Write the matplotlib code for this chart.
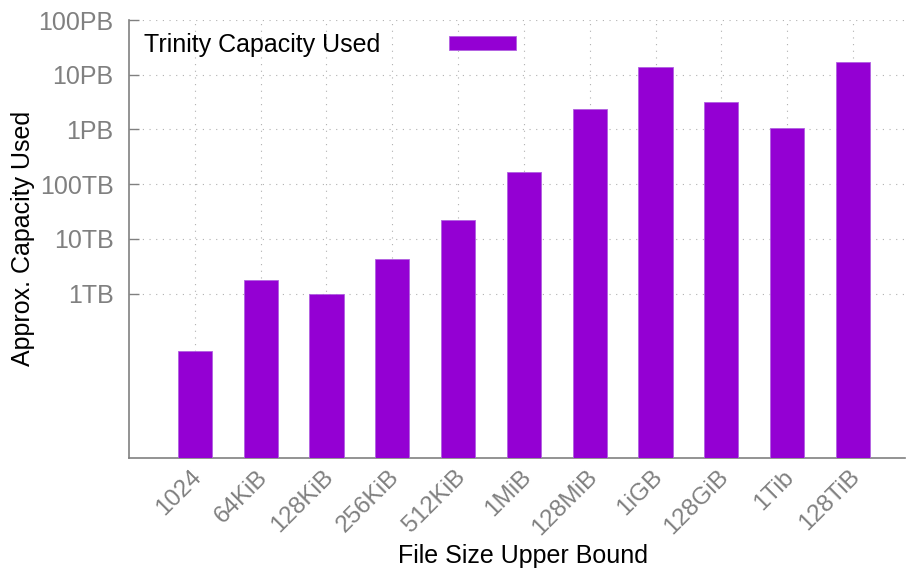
import matplotlib
matplotlib.use("Agg")
import matplotlib.pyplot as plt
from matplotlib.patches import Patch
from matplotlib.transforms import ScaledTranslation
import numpy as np

plt.rcParams['font.family'] = ['Liberation Sans', 'DejaVu Sans']

# File size buckets and capacity used per bucket (bytes)
size_labels = ["1024", "64KiB", "128KiB", "256KiB", "512KiB", "1MiB",
               "128MiB", "1iGB", "128GiB", "1Tib", "128TiB"]
capacity_bytes = [9.0e10, 1.8e12, 1.0e12, 4.3e12, 2.2e13, 1.67e14,
                  2.36e15, 1.37e16, 3.18e15, 1.05e15, 1.69e16]

ytick_values = [1e12, 1e13, 1e14, 1e15, 1e16, 1e17]
ytick_labels = ["1TB", "10TB", "100TB", "1PB", "10PB", "100PB"]

series_name = "Trinity Capacity Used"
bar_color = "#9400d3"
axis_gray = "#808080"
fs = 18

W, H = 907, 570
fig = plt.figure(figsize=(W / 100, H / 100), dpi=100)
ax = fig.add_axes([129 / W, 1 - 457.7 / H, (905 - 129) / W, (457.7 - 20) / H])

x = np.arange(1, len(size_labels) + 1)
ax.bar(x, capacity_bytes, width=0.52, color=bar_color, edgecolor="#b060e0",
       linewidth=0.6, zorder=3, label=series_name)

ax.set_yscale("log")
ax.set_ylim(1e9, 1e17)
ax.set_xlim(0, 11.79)

ax.set_yticks(ytick_values)
ax.set_yticklabels(ytick_labels)
ax.yaxis.set_minor_locator(matplotlib.ticker.NullLocator())
ax.set_xticks(x)
ax.set_xticklabels(size_labels, rotation=45, ha="right", va="top",
                   rotation_mode="anchor")

ax.tick_params(axis="y", direction="in", length=7, width=1, color=axis_gray,
               labelcolor=axis_gray, labelsize=fs, pad=11)
ax.tick_params(axis="x", direction="in", length=0, labelcolor=axis_gray,
               labelsize=17.5, pad=3)

# nudge the rotated category labels so their ends sit under the bars
shift = ScaledTranslation(-4 / 100, -4 / 100, fig.dpi_scale_trans)
for tick in ax.xaxis.get_major_ticks():
    tick.label1.set_transform(tick.label1.get_transform() + shift)

ax.grid(True, which="major", linestyle=(0, (1, 5)), color="#b0b0b0",
        linewidth=0.8, zorder=0)

for side in ["top", "right"]:
    ax.spines[side].set_visible(False)
for side in ["left", "bottom"]:
    ax.spines[side].set_color(axis_gray)
    ax.spines[side].set_linewidth(1.2)

ax.set_ylabel("Approx. Capacity Used", fontsize=fs)
ax.yaxis.set_label_coords((23 - 129) / 776, (457.7 - 238) / 437.7)
ax.yaxis.label.set_va("center")
ax.set_xlabel("File Size Upper Bound", fontsize=fs)
ax.xaxis.set_label_coords((523 - 129) / 776, (457.7 - 563) / 437.7)
ax.xaxis.label.set_va("baseline")

handle = Patch(facecolor=bar_color, edgecolor="#b060e0", linewidth=0.6)
ax.legend([handle], [series_name], loc="upper left", frameon=False,
          markerfirst=False, fontsize=fs, handlelength=2.68, handleheight=0.52,
          handletextpad=2.76, borderaxespad=0, bbox_to_anchor=(0.006, 0.993))

fig.savefig("out.png", dpi=100)
